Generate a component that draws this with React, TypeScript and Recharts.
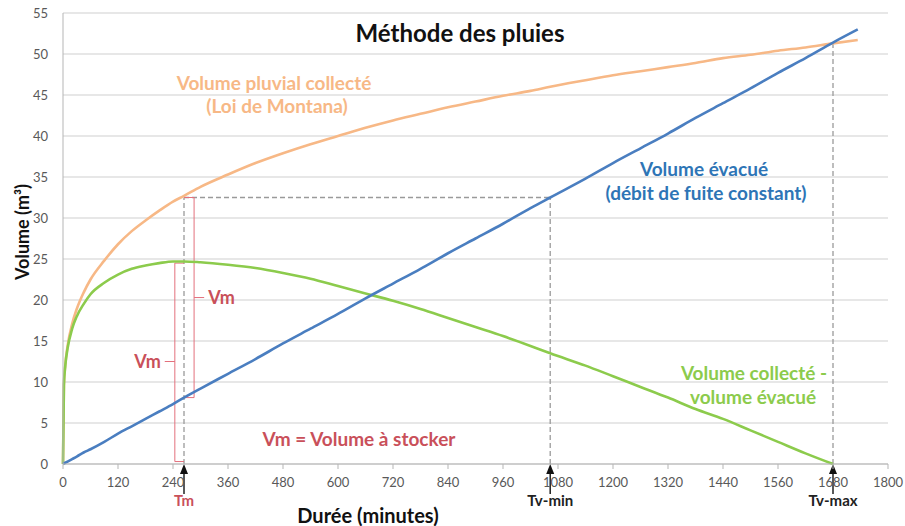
import { CSSProperties } from "react";
import {
  CartesianGrid,
  Line,
  LineChart,
  ReferenceLine,
  XAxis,
  YAxis,
} from "recharts";

// durée (minutes)
const DUREE = [
  0, 2, 5, 10, 20, 30, 45, 60, 90, 120, 150, 180, 210, 240, 264, 300, 360, 420,
  480, 540, 600, 660, 720, 780, 840, 900, 960, 1020, 1063, 1140, 1200, 1260,
  1320, 1380, 1440, 1500, 1560, 1620, 1680, 1734,
];

// Volume pluvial collecté (Loi de Montana), m³
const PLUVIAL = [
  0, 9.7, 12.1, 14.4, 17.1, 18.9, 20.9, 22.5, 24.8, 26.8, 28.4, 29.7, 30.9,
  32.0, 32.7, 33.8, 35.3, 36.7, 37.9, 39.0, 40.0, 41.0, 41.9, 42.7, 43.5, 44.2,
  44.9, 45.5, 46.0, 46.8, 47.4, 47.9, 48.4, 48.9, 49.5, 49.9, 50.4, 50.8, 51.3,
  51.7,
];

// Volume évacué (débit de fuite constant), m³
const EVACUE = [
  0, 0.06, 0.15, 0.3, 0.6, 0.9, 1.4, 1.8, 2.7, 3.7, 4.6, 5.5, 6.4, 7.3, 8.1,
  9.2, 11.0, 12.8, 14.7, 16.5, 18.3, 20.2, 22.0, 23.8, 25.7, 27.5, 29.3, 31.2,
  32.5, 34.8, 36.7, 38.5, 40.3, 42.2, 44.0, 45.8, 47.7, 49.5, 51.4, 53.0,
];

// Volume collecté - volume évacué, m³
const DIFF = [
  0, 9.6, 12.0, 14.1, 16.5, 18.0, 19.5, 20.7, 22.1, 23.1, 23.8, 24.2, 24.5,
  24.7, 24.7, 24.6, 24.3, 23.9, 23.3, 22.6, 21.7, 20.8, 19.9, 18.9, 17.8, 16.7,
  15.6, 14.4, 13.5, 12.0, 10.7, 9.4, 8.1, 6.7, 5.5, 4.1, 2.7, 1.3, 0, null,
];

const X_TICKS = [
  0, 120, 240, 360, 480, 600, 720, 840, 960, 1080, 1200, 1320, 1440, 1560,
  1680, 1800,
];
const Y_TICKS = [0, 5, 10, 15, 20, 25, 30, 35, 40, 45, 50, 55];

// repères
const TM = 264;
const TV_MIN = 1063;
const TV_MAX = 1680;
const V_TM = 32.5;
const V_TVMAX = 51.4;
const EV_TM = 8.1;
const VM = 24.5;

const data = DUREE.map((t, i) => ({
  t,
  pluvial: PLUVIAL[i],
  evacue: EVACUE[i],
  diff: DIFF[i],
}));

const FONT = "Lato, 'Open Sans', sans-serif";
const ORANGE = "#F7B886";
const BLUE = "#4A7EC0";
const GREEN = "#8CCB4C";
const RED = "#C9505A";
const RED_LINE = "#E3707C";
const DASH = "#9a9a9a";

const marker = (text: string, color: string) => (props: any) => {
  const vb = props.viewBox || {};
  const x = vb.x;
  const yb = vb.y + vb.height;
  return (
    <g>
      <line x1={x} y1={yb + 9} x2={x} y2={yb + 30} stroke="#222" strokeWidth={1.5} />
      <path d={`M ${x} ${yb} L ${x - 4} ${yb + 10} L ${x + 4} ${yb + 10} Z`} fill="#111" />
      <text
        x={x}
        y={yb + 42}
        textAnchor="middle"
        fill={color}
        fontFamily={FONT}
        fontWeight={700}
        fontSize={15}
      >
        {text}
      </text>
    </g>
  );
};

const txt = (
  left: number,
  top: number,
  color: string,
  size: number,
  extra: CSSProperties = {},
): CSSProperties => ({
  position: "absolute",
  left,
  top,
  transform: "translate(-50%, -50%)",
  whiteSpace: "nowrap",
  color,
  fontSize: size,
  fontWeight: 700,
  fontFamily: FONT,
  lineHeight: 1,
  ...extra,
});

export default function App() {
  const tick = { fontSize: 13, fill: "#595959", fontFamily: FONT };
  const vmLabel = {
    value: "Vm",
    offset: 4,
    fill: RED,
    fontSize: 18,
    fontWeight: 700,
    fontFamily: FONT,
  };
  return (
    <div
      style={{
        position: "absolute",
        left: 0,
        top: 0,
        width: 905,
        height: 526,
        background: "#fff",
        overflow: "hidden",
      }}
    >
      <LineChart
        width={905}
        height={526}
        data={data}
        margin={{ top: 13, right: 17, left: 0, bottom: 32 }}
      >
        <CartesianGrid vertical={false} stroke="#cfcfcf" strokeWidth={1.2} />
        <XAxis
          dataKey="t"
          type="number"
          domain={[0, 1800]}
          ticks={X_TICKS}
          interval={0}
          height={30}
          tick={tick}
          tickSize={5}
          tickMargin={9}
          stroke="#b5b5b5"
          tickLine={{ stroke: "#b5b5b5" }}
        />
        <YAxis
          type="number"
          domain={[0, 55]}
          ticks={Y_TICKS}
          interval={0}
          width={63}
          tick={tick}
          tickLine={false}
          tickSize={8}
          tickMargin={7}
          stroke="#b5b5b5"
        />

        {/* pointillés */}
        <ReferenceLine
          segment={[{ x: TM, y: 0 }, { x: TM, y: V_TM }]}
          stroke={DASH}
          strokeDasharray="5 3"
          strokeWidth={1.3}
          label={marker("Tm", RED)}
        />
        <ReferenceLine
          segment={[{ x: TV_MIN, y: 0 }, { x: TV_MIN, y: V_TM }]}
          stroke={DASH}
          strokeDasharray="5 3"
          strokeWidth={1.3}
          label={marker("Tv-min", "#222")}
        />
        <ReferenceLine
          segment={[{ x: TV_MAX, y: 0 }, { x: TV_MAX, y: V_TVMAX }]}
          stroke={DASH}
          strokeDasharray="5 3"
          strokeWidth={1.3}
          label={marker("Tv-max", "#222")}
        />
        <ReferenceLine
          segment={[{ x: TM, y: V_TM }, { x: TV_MIN, y: V_TM }]}
          stroke={DASH}
          strokeDasharray="5 3"
          strokeWidth={1.3}
        />

        {/* accolades Vm */}
        <ReferenceLine segment={[{ x: 244, y: 0.3 }, { x: 244, y: VM }]} stroke={RED_LINE} />
        <ReferenceLine segment={[{ x: 244, y: VM }, { x: TM, y: VM }]} stroke={RED_LINE} />
        <ReferenceLine segment={[{ x: 244, y: 0.3 }, { x: TM, y: 0.3 }]} stroke={RED_LINE} />
        <ReferenceLine
          segment={[{ x: 222, y: 12.5 }, { x: 244, y: 12.5 }]}
          stroke={RED_LINE}
          label={{ ...vmLabel, position: "left" }}
        />
        <ReferenceLine segment={[{ x: 286, y: EV_TM }, { x: 286, y: V_TM }]} stroke={RED_LINE} />
        <ReferenceLine segment={[{ x: TM, y: V_TM }, { x: 286, y: V_TM }]} stroke={RED_LINE} />
        <ReferenceLine segment={[{ x: TM, y: EV_TM }, { x: 286, y: EV_TM }]} stroke={RED_LINE} />
        <ReferenceLine
          segment={[{ x: 286, y: 20.3 }, { x: 308, y: 20.3 }]}
          stroke={RED_LINE}
          label={{ ...vmLabel, position: "right" }}
        />

        <Line
          type="monotone"
          dataKey="pluvial"
          stroke={ORANGE}
          strokeWidth={2.6}
          dot={false}
          isAnimationActive={false}
        />
        <Line
          type="monotone"
          dataKey="diff"
          stroke={GREEN}
          strokeWidth={2.6}
          dot={false}
          connectNulls={false}
          isAnimationActive={false}
        />
        <Line
          type="monotone"
          dataKey="evacue"
          stroke={BLUE}
          strokeWidth={2.6}
          dot={false}
          isAnimationActive={false}
        />
      </LineChart>

      <div style={txt(460, 33, "#111", 24)}>Méthode des pluies</div>
      <div style={txt(22, 232, "#111", 18, { transform: "translate(-50%, -50%) rotate(-90deg)" })}>
        Volume (m³)
      </div>
      <div style={txt(368, 515, "#111", 20)}>Durée (minutes)</div>
      <div style={txt(274, 82, ORANGE, 19)}>Volume pluvial collecté</div>
      <div style={txt(277, 105, ORANGE, 19)}>(Loi de Montana)</div>
      <div style={txt(704, 168, "#2E75B6", 19)}>Volume évacué</div>
      <div style={txt(706, 192, "#2E75B6", 19)}>(débit de fuite constant)</div>
      <div style={txt(754, 372, GREEN, 19)}>Volume collecté -</div>
      <div style={txt(753, 396, GREEN, 19)}>volume évacué</div>
      <div style={txt(359, 438, RED, 19)}>Vm = Volume à stocker</div>
    </div>
  );
}
